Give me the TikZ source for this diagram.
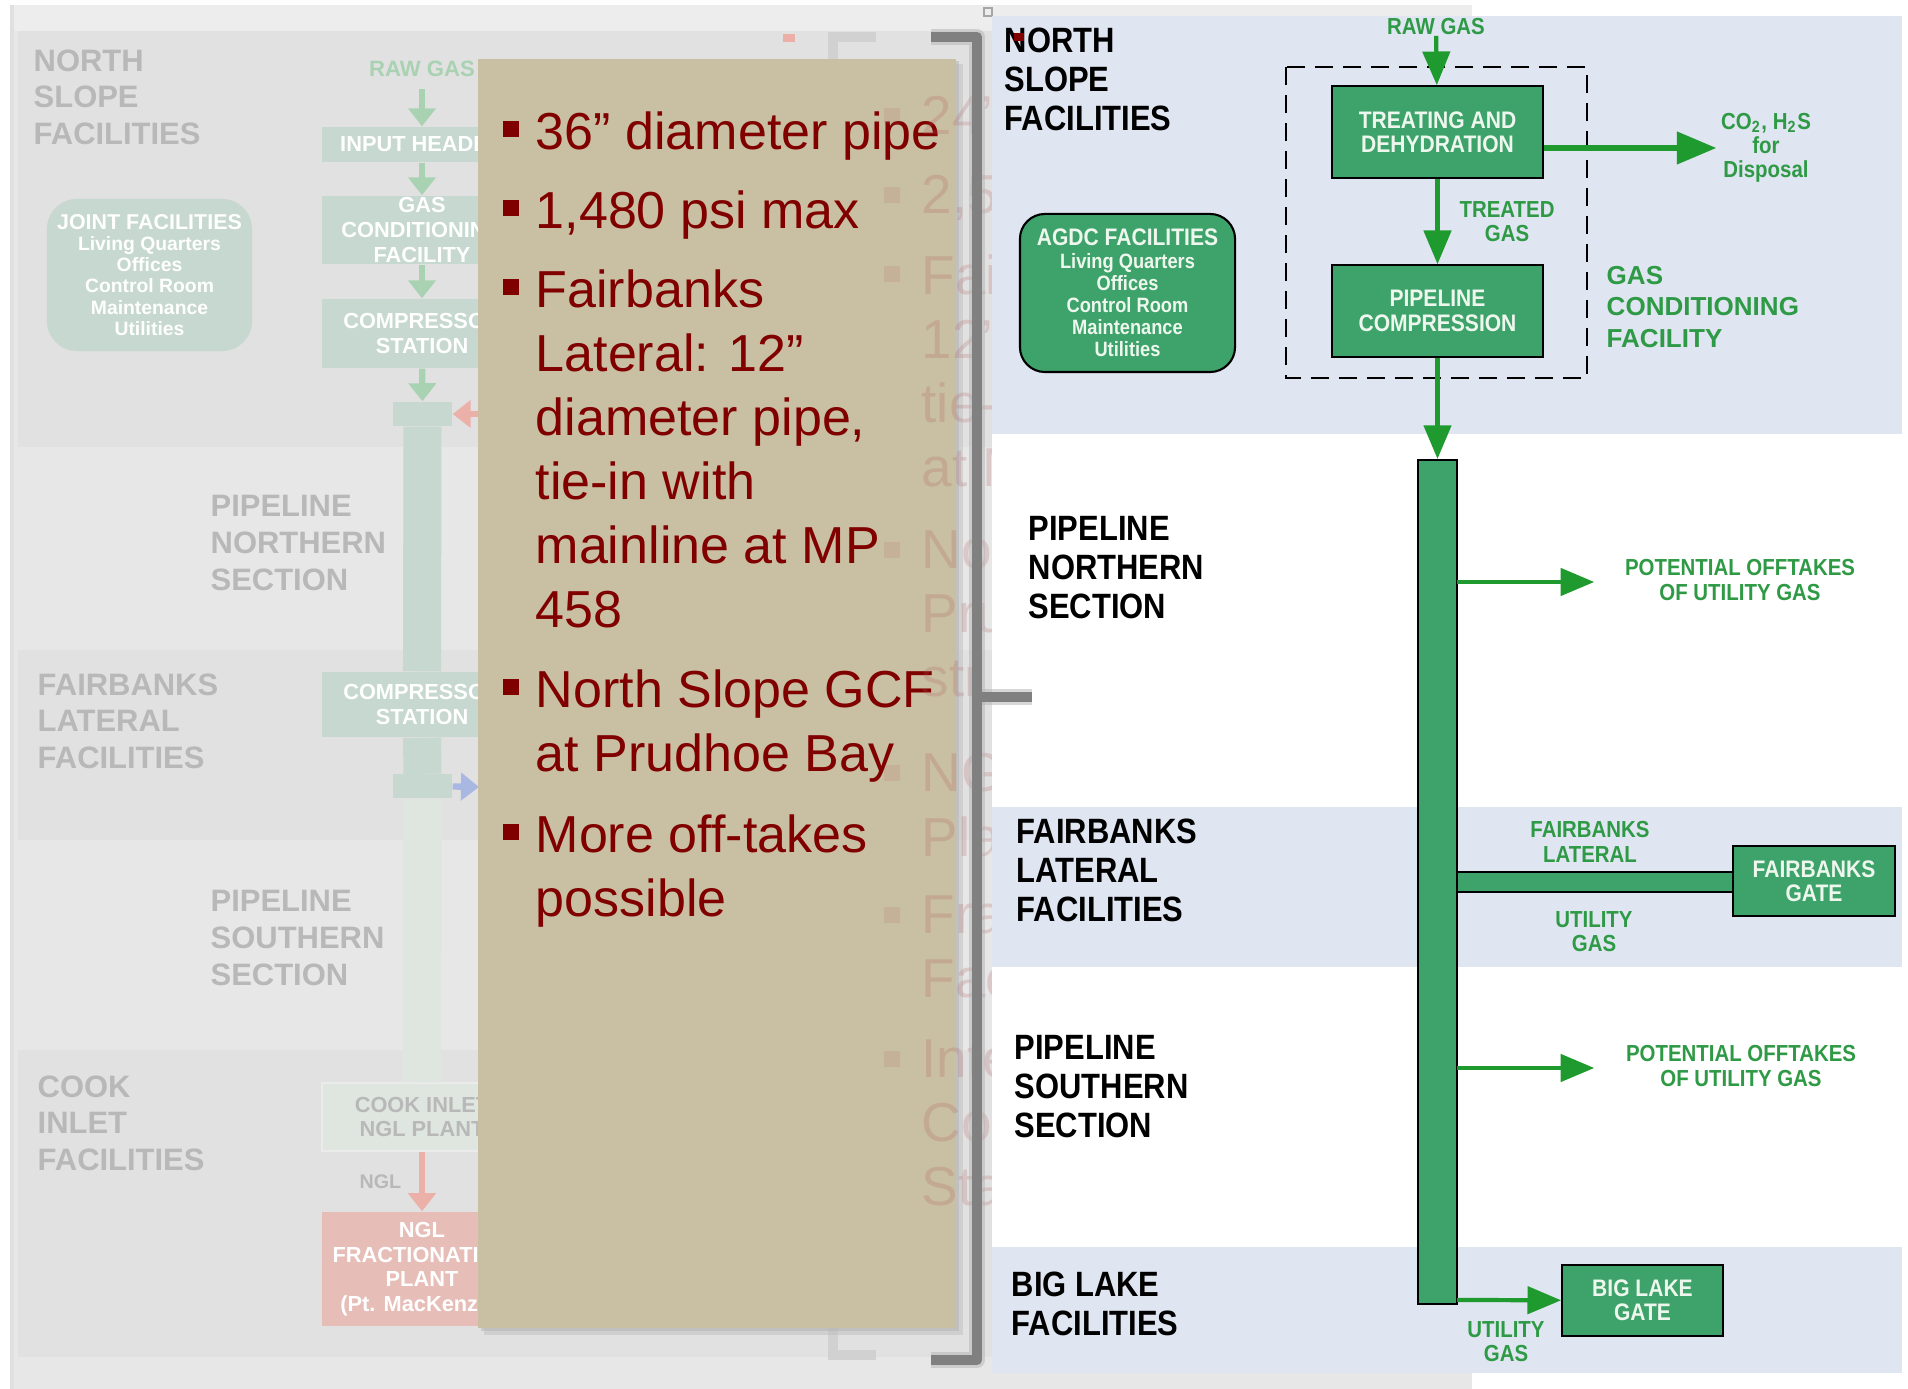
\documentclass[tikz,border=0pt]{standalone}
\usepackage{fontspec}
\setmainfont{Liberation Sans}
\newfontfamily\narrowbf[FakeStretch=0.88,UprightFont={* Bold}]{Liberation Sans}
\usetikzlibrary{shapes,arrows,arrows.meta,positioning}
\definecolor{slidetop}{HTML}{EDEDED}
\definecolor{slidebase}{HTML}{E7E7E7}
\definecolor{slideband}{HTML}{E1E1E1}
\definecolor{fadegray}{HTML}{B8B8B8}
\definecolor{fadegreen}{HTML}{C6D8CF}
\definecolor{fadearrow}{HTML}{A9D2B2}
\definecolor{fadepale}{HTML}{DEE6DF}
\definecolor{fadepink}{HTML}{E6BDB7}
\definecolor{fadered}{HTML}{EBB0A8}
\definecolor{fadeblue}{HTML}{A9B8E2}
\definecolor{khaki}{HTML}{C9C0A3}
\definecolor{bulletred}{HTML}{800000}
\definecolor{ghostred}{HTML}{B05A5A}
\definecolor{bandblue}{HTML}{DFE5F1}
\definecolor{boxgreen}{HTML}{3DA36A}
\definecolor{arrowgreen}{HTML}{1F9A2E}
\definecolor{labelgreen}{HTML}{2F9A45}
\definecolor{boxtext}{HTML}{EEF7EE}
\tikzstyle{fadelbl}=[align=left,anchor=west,inner sep=0pt,text=fadegray,font=\bfseries\fontsize{8.8}{10.4}\selectfont]
\tikzstyle{fadebox}=[rectangle,fill=fadegreen,text=white,align=center,inner sep=0pt,minimum width=2cm,font=\bfseries\fontsize{6.2}{7}\selectfont]
\tikzstyle{farr}=[-{Triangle[length=0.18cm,width=0.27cm]},line width=1.8pt,draw=fadearrow]
\tikzstyle{sq}=[rectangle,fill=bulletred,minimum size=0.16cm,inner sep=0pt]
\tikzstyle{bul}=[align=left,anchor=north west,inner sep=0pt,text=bulletred,font=\fontsize{14.8}{18.2}\selectfont]
\tikzstyle{ghost}=[align=left,anchor=north west,inner sep=0pt,text=ghostred,text opacity=0.22,font=\fontsize{15.6}{18.2}\selectfont]
\tikzstyle{sect}=[align=left,anchor=west,inner sep=0pt,font=\narrowbf\fontsize{10}{11.1}\selectfont]
\tikzstyle{gbox}=[rectangle,draw=black,line width=0.6pt,fill=boxgreen,text=boxtext,align=center,inner sep=0pt,font=\narrowbf\fontsize{6.8}{6.9}\selectfont]
\tikzstyle{glbl}=[align=center,inner sep=0pt,text=labelgreen,font=\narrowbf\fontsize{6.6}{6.9}\selectfont]
\tikzstyle{garr}=[-triangle 45,line width=1.2pt,draw=arrowgreen]

\begin{document}
\begin{tikzpicture}[x=0.01cm,y=-0.01cm]
\useasboundingbox (0,0) rectangle (1908,1389);
\fill[white] (0,0) rectangle (1908,1389);

% slide in the back
\fill[slidetop] (12,5) rectangle (1472,1389);
\fill[slidebase] (12,31) rectangle (1472,1389);
\fill[slideband] (18,31) rectangle (992,447);
\fill[slideband] (18,650) rectangle (992,840);
\fill[slideband] (18,1050) rectangle (992,1357);
\draw[black!12,line width=1pt] (12,5) -- (12,1389);
\node (nsf) [fadelbl] at (33,97) {NORTH\\SLOPE\\FACILITIES};
\node (pns) [fadelbl] at (210,543) {PIPELINE\\NORTHERN\\SECTION};
\node (flf) [fadelbl] at (37,721) {FAIRBANKS\\LATERAL\\FACILITIES};
\node (pss) [fadelbl] at (210,938) {PIPELINE\\SOUTHERN\\SECTION};
\node (cif) [fadelbl] at (37,1123) {COOK\\INLET\\FACILITIES};
\node (jf) [fadebox,rounded corners=0.3cm,minimum width=2.05cm,minimum height=1.52cm,font=\bfseries\fontsize{5.5}{6}\selectfont] at (149.5,275) {{\fontsize{6.1}{7.4}\selectfont JOINT FACILITIES}\\Living Quarters\\Offices\\Control Room\\Maintenance\\Utilities};
\node (fraw) [text=fadearrow,font=\bfseries\fontsize{6.3}{7}\selectfont] at (422,69) {RAW GAS};
\node (ih) [fadebox,minimum height=0.35cm] at (422,144.5) {INPUT HEADER};
\node (gcf) [fadebox,minimum height=0.68cm] at (422,230) {GAS\\CONDITIONING\\FACILITY};
\node (cs1) [fadebox,minimum height=0.69cm] at (422,333.5) {COMPRESSOR\\STATION};
\node (hd1) [fadebox,minimum width=0.59cm,minimum height=0.24cm] at (422.5,414) {};
\node (cs2) [fadebox,minimum height=0.65cm] at (422,704.5) {COMPRESSOR\\STATION};
\node (hd2) [fadebox,minimum width=0.59cm,minimum height=0.24cm] at (422.5,786.5) {};
\node (cin) [fadebox,fill=fadepale,text=fadegray,draw=black!8,minimum height=0.68cm] at (422,1117) {COOK INLET\\NGL PLANT};
\node (fp) [fadebox,fill=fadepink,minimum height=1.14cm] at (422,1269) {NGL\\FRACTIONATION\\PLANT\\(Pt. MacKenzie)};
\coordinate (rin) at (500,414);
\coordinate (bout) at (479,787);
\draw[fadegreen,line width=0.38cm] (hd1.south) -- (cs2.north);
\draw[fadegreen,line width=0.38cm] (cs2.south) -- (hd2.north);
\draw[fadepale,line width=0.38cm] (hd2.south) -- (cin.north);
\draw [farr] (fraw) -- (ih);
\draw [farr] (ih) -- (gcf);
\draw [farr] (gcf) -- (cs1);
\draw [farr] (cs1) -- (hd1);
\draw [farr,draw=fadered,fill=fadered] (rin) -- (hd1.east);
\draw [farr,draw=fadeblue,fill=fadeblue] (hd2.east) -- (bout);
\draw [farr,draw=fadered] (cin) -- node [left=0.06cm,text=fadegray,font=\bfseries\fontsize{5.6}{6}\selectfont] {NGL} (fp);
\fill[fadered] (783,34) rectangle (795,42);
\draw[black!35,line width=0.5pt] (984,8) rectangle (992,16);

% light bracket
\draw[black!18,line width=2.6pt] (876,37) -- (833,37) -- (833,1355) -- (876,1355);

% text panel
\fill[black!25,opacity=0.5] (484,64) rectangle (963,1335);
\fill[black!30,opacity=0.5] (481,61) rectangle (959,1331);
\fill[khaki] (478,59) rectangle (956,1328);
\node (b1) [sq] at (511,129) {};
\node (t1) [bul] at (535,111) {36” diameter pipe};
\node (b2) [sq] at (511,208) {};
\node (t2) [bul] at (535,190) {1,480 psi max};
\node (b3) [sq] at (511,287) {};
\node (t3) [bul] at (535,269) {Fairbanks\\Lateral: 12”\\diameter pipe,\\tie-in with\\mainline at MP\\458};
\node (b4) [sq] at (511,687) {};
\node (t4) [bul] at (535,669) {North Slope GCF\\at Prudhoe Bay};
\node (b5) [sq] at (511,832) {};
\node (t5) [bul] at (535,814) {More off-takes\\possible};

% next slide showing through
\foreach \y in {116,195,274,550,773,915,1059}
  \fill[ghostred,opacity=0.15] (884,\y-8) rectangle (900,\y+8);
\node (g1) [ghost] at (921,96) {24”};
\node (g2) [ghost] at (921,175) {2,5};
\node (g3) [ghost] at (921,254) {Fai\\12”\\tie-\\at M};
\node (g4) [ghost] at (921,530) {Nor\\Pru\\str};
\node (g5) [ghost] at (921,753) {NG\\Pla};
\node (g6) [ghost] at (921,895) {Fra\\Fac};
\node (g7) [ghost] at (921,1039) {Inte\\Con\\Sta};

% flow diagram
\fill[white] (992,16) rectangle (1908,1373);
\fill[bandblue] (992,16) rectangle (1902,434);
\fill[bandblue] (992,807) rectangle (1902,967);
\fill[bandblue] (992,1247) rectangle (1902,1373);
\node (ns) [sect] at (1004,79) {NORTH\\SLOPE\\FACILITIES};
\fill[bulletred] (1014,33) rectangle (1024,41);
\node (pn) [sect] at (1028,568) {PIPELINE\\NORTHERN\\SECTION};
\node (fl) [sect] at (1016,870) {FAIRBANKS\\LATERAL\\FACILITIES};
\node (ps) [sect] at (1014,1087) {PIPELINE\\SOUTHERN\\SECTION};
\node (bl) [sect] at (1011,1304) {BIG LAKE\\FACILITIES};

\draw[black,line width=0.6pt,dash pattern=on 0.18cm off 0.1cm] (1286,67) rectangle (1587,378);
\node (rg) [glbl] at (1436,27) {RAW GAS};
\node (td) [gbox,minimum width=2.11cm,minimum height=0.92cm] at (1437.5,132) {TREATING AND\\DEHYDRATION};
\node (pc) [gbox,minimum width=2.11cm,minimum height=0.92cm] at (1437.5,311) {PIPELINE\\COMPRESSION};
\node (co) [glbl] at (1766,148) {CO\textsubscript{2}, H\textsubscript{2}S\\for\\Disposal};
\node (gcl) [align=left,anchor=west,inner sep=0pt,text=labelgreen,font=\bfseries\fontsize{7.4}{9}\selectfont] at (1606,307) {GAS\\CONDITIONING\\FACILITY};
\node (agdc) [gbox,rounded corners=0.25cm,minimum width=2.15cm,minimum height=1.58cm,font=\narrowbf\fontsize{5.9}{6.3}\selectfont] at (1127.5,293) {{\fontsize{6.8}{7.4}\selectfont AGDC FACILITIES}\\Living Quarters\\Offices\\Control Room\\Maintenance\\Utilities};
\node (mp) [gbox,minimum width=0.39cm,minimum height=8.44cm] at (1437.5,882) {};
\node (lat) [gbox,minimum width=2.76cm,minimum height=0.2cm] at (1595,882) {};
\node (fg) [gbox,minimum width=1.62cm,minimum height=0.7cm] at (1814,881) {FAIRBANKS\\GATE};
\node (blg) [gbox,minimum width=1.61cm,minimum height=0.71cm] at (1642.5,1300.5) {BIG LAKE\\GATE};
\node (o1) [glbl] at (1740,580) {POTENTIAL OFFTAKES\\OF UTILITY GAS};
\node (o2) [glbl] at (1741,1066) {POTENTIAL OFFTAKES\\OF UTILITY GAS};
\node (fll) [glbl] at (1590,842) {FAIRBANKS\\LATERAL};
\node (ug1) [glbl] at (1594,932) {UTILITY\\GAS};
\node (ug2) [glbl] at (1506,1342) {UTILITY\\GAS};
\coordinate (m1) at (1457,582);
\coordinate (e1) at (1594,582);
\coordinate (m2) at (1457,1068);
\coordinate (e2) at (1594,1068);
\coordinate (m3) at (1457,1300);
\draw [garr] (rg) -- (td);
\draw [garr] (td) -- node [glbl,right=0.2cm] {TREATED\\GAS} (pc);
\draw [garr,line width=1.6pt] (td.east |- co) -- (1716,148);
\draw [garr] (pc) -- (mp);
\draw [garr] (m1) -- (e1);
\draw [garr] (m2) -- (e2);
\draw [garr] (m3) -- (blg);

% dark bracket
\draw[black!30,opacity=0.5,line width=4.4pt,line join=round] (931,37) -- (977,37) -- (977,1360) -- (931,1360);
\draw[black!30,opacity=0.5,line width=4.4pt] (977,697) -- (1032,697);
\draw[black!50,line width=2.8pt,line join=round] (931,37) -- (977,37) -- (977,1360) -- (931,1360);
\draw[black!50,line width=2.8pt] (977,697) -- (1032,697);
\end{tikzpicture}
\end{document}
